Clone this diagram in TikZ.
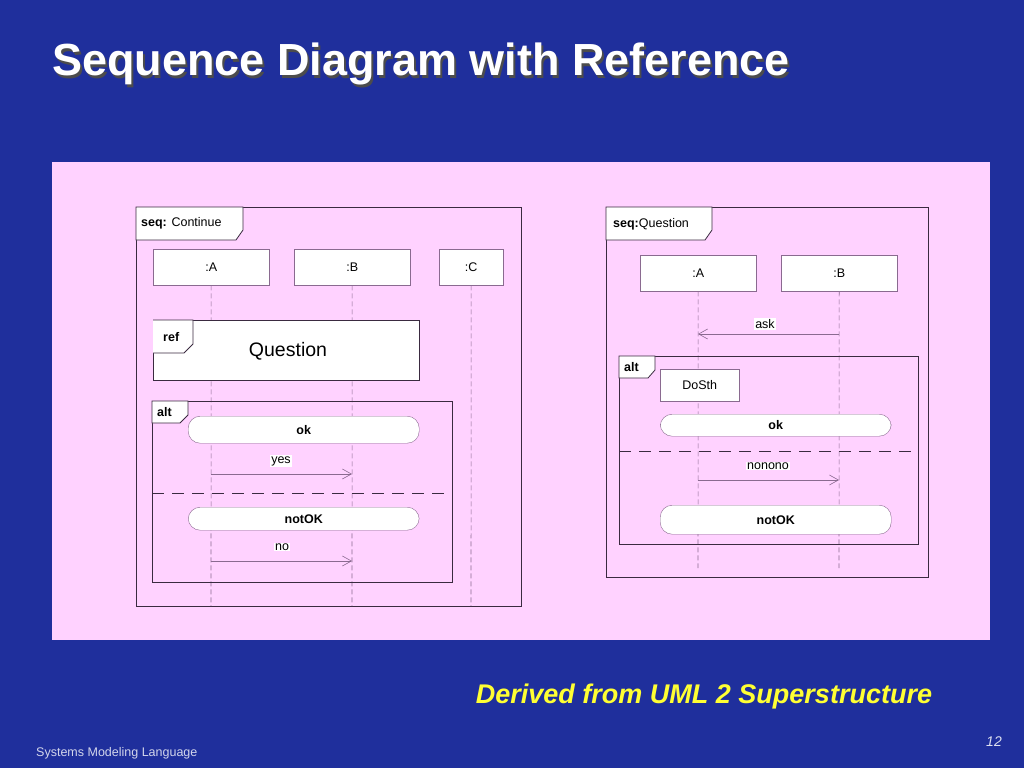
\documentclass[tikz,border=0pt]{standalone}
\usepackage{fontspec}
\setmainfont{Liberation Sans}
\usetikzlibrary{arrows.meta}
\definecolor{slide}{HTML}{1F2F9C}
\definecolor{panel}{HTML}{FFD2FF}
\definecolor{ink}{HTML}{3A2A40}
\definecolor{life}{HTML}{8A6A90}
\definecolor{subt}{HTML}{FFFF33}

\tikzset{
  frame/.style={draw=ink, line width=1pt},
  tab/.style={draw=ink, line width=0.8pt, fill=white},
  objbox/.style={draw=life, fill=white, anchor=north west, font=\fontsize{12.5}{14}\selectfont, inner sep=0pt},
  pill/.style={draw=life, fill=white, rounded corners=12pt, anchor=north west, font=\bfseries\fontsize{12.5}{14}\selectfont, inner sep=0pt},
  lifeline/.style={draw=life, dashed, dash pattern=on 5pt off 3pt, line width=0.6pt},
  msg/.style={draw=life, line width=0.6pt, -{Straight Barb[length=9pt,width=10pt]}},
  msglabel/.style={fill=white, inner sep=1pt, font=\fontsize{12.5}{14}\selectfont},
  altline/.style={draw=ink, line width=1pt, dash pattern=on 12pt off 8pt},
  tablabel/.style={anchor=west, inner sep=1pt, font=\fontsize{12.5}{14}\selectfont}
}

\begin{document}
\begin{tikzpicture}[x=1pt,y=-1pt]
  \useasboundingbox (0,0) rectangle (1024,768);
  \fill[slide] (0,0) rectangle (1024,768);
  \fill[panel] (52,162) rectangle (990,640);

  % titles
  \node (title) [anchor=west, inner sep=0pt, text=black!70, font=\bfseries\fontsize{45}{48}\selectfont] at (54,67) {Sequence Diagram with Reference};
  \node (titletop) [anchor=west, inner sep=0pt, text=white, font=\bfseries\fontsize{45}{48}\selectfont] at (52,64) {Sequence Diagram with Reference};
  \node (derived) [text=subt, font=\bfseries\itshape\fontsize{27}{30}\selectfont] at (704,697) {Derived from UML 2 Superstructure};
  \node (sml) [anchor=west, inner sep=0pt, text=white!80!slide, font=\fontsize{12.5}{14}\selectfont] at (36,753) {Systems Modeling Language};
  \node (page) [text=white!85!slide, font=\itshape\fontsize{14}{16}\selectfont] at (994,742) {12};

  % ---- seq: Continue
  \draw[frame] (136,207) rectangle (521,606);
  \draw[tab] (136,207) -- (243,207) -- (243,230) -- (236,240) -- (136,240) -- cycle;
  \node (seqc) [tablabel] at (140,223) {\textbf{seq:} Continue};

  \coordinate (endA) at (211,606);
  \coordinate (endB) at (352,606);
  \coordinate (endC) at (471,606);
  \node (cA) [objbox, minimum width=116pt, minimum height=36pt] at (153,249) {:A};
  \node (cB) [objbox, minimum width=116pt, minimum height=36pt] at (294,249) {:B};
  \node (cC) [objbox, minimum width=64pt, minimum height=36pt] at (439,249) {:C};
  \draw[lifeline] (cA) -- (endA);
  \draw[lifeline] (cB) -- (endB);
  \draw[lifeline] (cC) -- (endC);

  \node (refbox) [draw=ink, line width=1pt, fill=white, anchor=north west, minimum width=266pt, minimum height=60pt, inner sep=0pt] at (153,320) {};
  \draw[tab] (153,320) -- (193,320) -- (193,344) -- (184,353) -- (153,353);
  \node (reflabel) [tablabel, font=\bfseries\fontsize{12.5}{14}\selectfont] at (162,337) {ref};
  \node (question) [font=\fontsize{19.5}{22}\selectfont] at (288,351) {Question};

  \draw[frame] (152,401) rectangle (452,582);
  \draw[tab] (152,401) -- (188,401) -- (188,415) -- (180,423) -- (152,423) -- cycle;
  \node (altc) [tablabel, font=\bfseries\fontsize{12.5}{14}\selectfont] at (156,412) {alt};
  \node (okc) [pill, minimum width=231pt, minimum height=27pt] at (188,416) {ok};
  \coordinate (yesA) at (211,474);
  \coordinate (yesB) at (352,474);
  \draw[msg] (yesA) -- (yesB);
  \node (yes) [msglabel] at (281,461) {yes};
  \draw[altline] (152,493) -- (452,493);
  \node (notokc) [pill, minimum width=231pt, minimum height=23pt] at (188,507) {notOK};
  \coordinate (noA) at (211,561);
  \coordinate (noB) at (352,561);
  \draw[msg] (noA) -- (noB);
  \node (no) [msglabel] at (282,547) {no};

  % ---- seq: Question
  \draw[frame] (606,207) rectangle (928,577);
  \draw[tab] (606,207) -- (712,207) -- (712,230) -- (705,240) -- (606,240) -- cycle;
  \node (seqq) [tablabel] at (612,224) {\textbf{seq:}Question};

  \coordinate (endQA) at (698,568);
  \coordinate (endQB) at (839,568);
  \node (qA) [objbox, minimum width=116pt, minimum height=36pt] at (640,255) {:A};
  \node (qB) [objbox, minimum width=116pt, minimum height=36pt] at (781,255) {:B};
  \draw[lifeline] (qA) -- (endQA);
  \draw[lifeline] (qB) -- (endQB);

  \coordinate (askB) at (839,334);
  \coordinate (askA) at (698,334);
  \draw[msg] (askB) -- (askA);
  \node (ask) [msglabel] at (765,324) {ask};

  \draw[frame] (619,356) rectangle (918,544);
  \draw[tab] (619,356) -- (655,356) -- (655,370) -- (648,378) -- (619,378) -- cycle;
  \node (altq) [tablabel, font=\bfseries\fontsize{12.5}{14}\selectfont] at (623,367) {alt};
  \node (dosth) [objbox, minimum width=79pt, minimum height=32pt] at (660,369) {DoSth};
  \node (okq) [pill, minimum width=231pt, minimum height=22pt] at (660,414) {ok};
  \draw[altline] (619,451) -- (918,451);
  \coordinate (nonoA) at (698,480);
  \coordinate (nonoB) at (839,480);
  \draw[msg] (nonoA) -- (nonoB);
  \node (nonono) [msglabel] at (768,466) {nonono};
  \node (notokq) [pill, minimum width=231pt, minimum height=29pt] at (660,505) {notOK};
\end{tikzpicture}
\end{document}
